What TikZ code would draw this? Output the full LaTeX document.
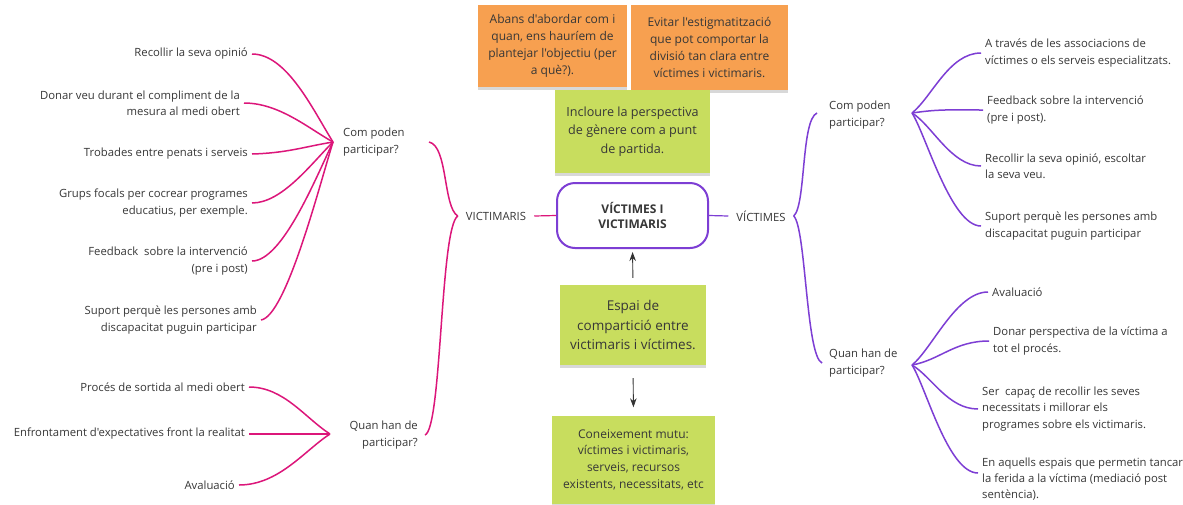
\documentclass[tikz,border=0pt]{standalone}
\usepackage{fontspec}
\setmainfont{Open Sans}[Ligatures=TeXOff]
\usetikzlibrary{arrows.meta,shadows}
\definecolor{lmag}{RGB}{220,22,122}
\definecolor{purp}{RGB}{125,62,212}
\definecolor{txt}{RGB}{55,55,55}
\definecolor{orng}{RGB}{247,160,80}
\definecolor{lime}{RGB}{200,221,94}
\newcommand{\leaffont}{\fontsize{11.3}{16.3}\selectfont}
\tikzset{
  leafL/.style={anchor=east, align=right, inner xsep=4pt, inner ysep=1pt, font=\leaffont, text=txt},
  leafR/.style={anchor=west, align=left, inner xsep=4pt, inner ysep=1pt, font=\leaffont, text=txt},
  hubL/.style={leafL},
  hubR/.style={leafR},
  branchlabel/.style={anchor=center, inner xsep=8pt, inner ysep=1pt, font=\leaffont, text=txt},
  magline/.style={draw=lmag, line width=1.5pt},
  purline/.style={draw=purp, line width=1.5pt},
  note/.style={inner sep=0pt, align=center, text=txt,
    drop shadow={shadow xshift=0pt, shadow yshift=-3pt, opacity=0.3}},
  orangenote/.style={note, fill=orng, font=\fontsize{12}{17}\selectfont},
  greennote/.style={note, fill=lime},
  centerbox/.style={draw=purp, line width=2pt, fill=white, rounded corners=18pt,
    minimum width=151pt, minimum height=65pt, align=center, text=txt,
    font=\bfseries\fontsize{12}{15}\selectfont},
  uparrow/.style={-{Stealth[length=9pt,width=6.5pt]}, line width=0.9pt, draw=black!80}
}
\begin{document}
\begin{tikzpicture}[x=1pt,y=-1pt]
\useasboundingbox (0,0) rectangle (1183,504);
\fill[white] (0,0) rectangle (1183,504);

% ---------- centre column ----------
\node[orangenote, minimum width=149pt, minimum height=82pt] (o1) at (552.5,46)
  {Abans d'abordar com i\\quan, ens hauríem de\\plantejar l'objectiu (per\\a què?).};
\node[orangenote, minimum width=157pt, minimum height=85pt] (o2) at (709.5,47.5)
  {Evitar l'estigmatització\\que pot comportar la\\divisió tan clara entre\\víctimes i victimaris.};
\node[greennote, minimum width=155pt, minimum height=83pt, font=\fontsize{12.6}{18.5}\selectfont] (g1) at (632.5,131.5)
  {Incloure la perspectiva\\de gènere com a punt\\de partida.};
\node[centerbox] (cbox) at (632.5,215.5) {VÍCTIMES I\\VICTIMARIS};
\node[greennote, minimum width=146pt, minimum height=80pt, font=\fontsize{13.5}{19.5}\selectfont] (g2) at (633,325)
  {Espai de\\compartició entre\\victimaris i víctimes.};
\node[greennote, minimum width=163pt, minimum height=88pt, font=\fontsize{12}{16.7}\selectfont] (g3) at (633.5,459.5)
  {Coneixement mutu:\\víctimes i victimaris,\\serveis, recursos\\existents, necessitats, etc};

\draw[uparrow, shorten <=7pt, shorten >=3pt] (g2.north) -- (cbox.south);
\draw[uparrow, shorten <=13pt, shorten >=8pt] (g2.south) -- (g3.north);

% ---------- VICTIMARIS side ----------
\node[branchlabel] (vict) at (496,216) {VICTIMARIS};
\draw[draw=lmag, line width=1.2pt] (vict.east) -- (cbox.west);

\node[hubR] (lcom) at (339,142) {Com poden\\participar?};
\node[hubL] (lquan) at (422,435) {Quan han de\\participar?};
\coordinate (lb1) at (429,142);
\coordinate (lb2) at (425,435);
\coordinate (lc1) at (333,142);
\coordinate (lc2) at (330,434);

\draw[magline] (vict.west) .. controls (443,207) and (448,146) .. (lb1);
\draw[magline] (vict.west) .. controls (440,228) and (442,428) .. (lb2);

\node[leafL] (l1) at (252,54) {Recollir la seva opinió};
\node[leafL] (l2) at (244,103) {Donar veu durant el compliment de la\\mesura al medi obert};
\node[leafL] (l3) at (252,154) {Trobades entre penats i serveis};
\node[leafL] (l4) at (252,203) {Grups focals per cocrear programes\\educatius, per exemple.};
\node[leafL] (l5) at (252,261) {Feedback\ \ sobre la intervenció\\(pre i post)};
\node[leafL] (l6) at (261,320) {Suport perquè les persones amb\\discapacitat puguin participar};
\node[leafL] (l7) at (249,387) {Procés de sortida al medi obert};
\node[leafL] (l8) at (249,434) {Enfrontament d'expectatives front la realitat};
\node[leafL] (l9) at (239,485) {Avaluació};

\draw[magline] (l1.east) .. controls +(35,0) and +(-20,-32) .. (lc1);
\draw[magline] (l2.east) .. controls +(35,0) and +(-25,-14) .. (lc1);
\draw[magline] (l3.east) .. controls +(35,-1) and +(-30,5) .. (lc1);
\draw[magline] (l4.east) .. controls +(30,0) and +(-22,22) .. (lc1);
\draw[magline] (l5.east) .. controls +(30,0) and +(-18,38) .. (lc1);
\draw[magline] (l6.east) .. controls +(25,-4) and +(-14,45) .. (lc1);
\draw[magline] (l7.east) .. controls +(35,0) and +(-25,-16) .. (lc2);
\draw[magline] (l8.east) -- (lc2);
\draw[magline] (l9.east) .. controls +(40,0) and +(-25,16) .. (lc2);

% ---------- VÍCTIMES side ----------
\node[branchlabel] (victimes) at (761,216) {VÍCTIMES};
\draw[draw=purp, line width=1.2pt] (cbox.east) -- (victimes.west);

\node[hubR] (rcom) at (825,115) {Com poden\\participar?};
\node[hubR] (rquan) at (825,363) {Quan han de\\participar?};
\coordinate (rb1) at (817,113);
\coordinate (rb2) at (822,363);
\coordinate (rc1) at (912,113);
\coordinate (rc2) at (912,365);

\draw[purline] (victimes.east) .. controls (806,205) and (801,120) .. (rb1);
\draw[purline] (victimes.east) .. controls (806,228) and (806,356) .. (rb2);

\node[leafR] (r1) at (981,53) {A través de les associacions de\\víctimes o els serveis especialitzats.};
\node[leafR] (r2) at (983,110) {Feedback sobre la intervenció\\(pre i post).};
\node[leafR] (r3) at (981,166) {Recollir la seva opinió, escoltar\\la seva veu.};
\node[leafR] (r4) at (981,226) {Suport perquè les persones amb\\discapacitat puguin participar};
\node[leafR] (r5) at (988,292) {Avaluació};
\node[leafR] (r6) at (989,341) {Donar perspectiva de la víctima a\\tot el procés.};
\node[leafR] (r7) at (978,409) {Ser\ \ capaç de recollir les seves\\necessitats i millorar els\\programes sobre els victimaris.};
\node[leafR, font=\fontsize{11.3}{15.6}\selectfont] (r8) at (978,479) {En aquells espais que permetin tancar\\la ferida a la víctima (mediació post\\sentència).};

\draw[purline] (rc1) .. controls +(20,-16) and +(-32,0) .. (r1.west);
\draw[purline] (rc1) .. controls +(28,-4) and +(-35,0) .. (r2.west);
\draw[purline] (rc1) .. controls +(20,12) and +(-30,0) .. (r3.west);
\draw[purline] (rc1) .. controls +(14,22) and +(-30,0) .. (r4.west);
\draw[purline] (rc2) .. controls +(20,-16) and +(-32,0) .. (r5.west);
\draw[purline] (rc2) .. controls +(28,-5) and +(-35,0) .. (r6.west);
\draw[purline] (rc2) .. controls +(20,12) and +(-30,0) .. (r7.west);
\draw[purline] (rc2) .. controls +(14,22) and +(-30,0) .. ([yshift=6pt]r8.west);
\end{tikzpicture}
\end{document}
